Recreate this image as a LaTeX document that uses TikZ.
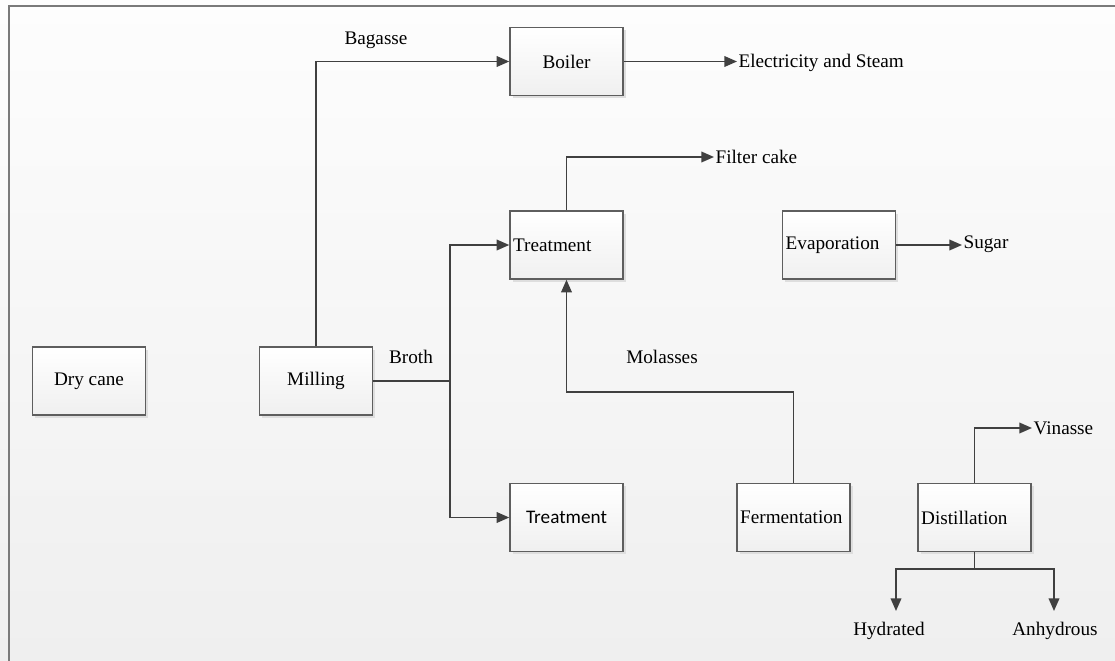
\documentclass[tikz,border=0pt]{standalone}
\usepackage{fontspec}
\setmainfont{Liberation Serif}
\newfontfamily\calibri{Carlito}
\usetikzlibrary{arrows.meta,shadows}
\definecolor{lncol}{HTML}{404040}
\definecolor{bxcol}{HTML}{5E5E5E}
\definecolor{bgtop}{HTML}{FDFDFD}
\definecolor{bgbot}{HTML}{EFEFEF}
\definecolor{frcol}{HTML}{7A7A7A}
\begin{document}
\begin{tikzpicture}[x=0.75pt,y=-0.75pt,
  font=\fontsize{14.4}{17}\selectfont,
  box/.style={draw=bxcol, line width=1.1pt, rectangle, inner sep=0pt,
    minimum width=84.75pt, minimum height=51pt,
    top color=white, bottom color=black!6,
    drop shadow={shadow xshift=2.2pt, shadow yshift=-2.2pt, fill=black!13, opacity=1}},
  lbox/.style={box, text width=80pt, align=left},
  lbl/.style={inner sep=1pt},
  arr/.style={draw=lncol, line width=1.2pt, -{Triangle[length=9.5pt,width=8pt]}},
  ln/.style={draw=lncol, line width=1.2pt}]
\useasboundingbox (0,0) rectangle (1115,661);
\fill[top color=bgtop, bottom color=bgbot] (0,0) rectangle (1115,661);
\draw[frcol, line width=1.5pt] (9,661) -- (9,6) -- (1115,6);

\node[box] (drycane) at (89,381) {Dry cane};
\node[box] (milling) at (316,381) {Milling};
\node[box] (boiler) at (566.5,61.5) {Boiler};
\node[lbox] (treat1) at (566.5,245) {Treatment};
\node[lbox] (evap) at (839,245) {Evaporation};
\node[box, font=\calibri\fontsize{14.4}{17}\selectfont] (treat2) at (566.5,517.5) {Treatment};
\node[lbox] (ferm) at (793.5,517.5) {Fermentation};
\node[lbox] (dist) at (974.5,517.5) {Distillation};

\node[lbl] (bagasse) at (376,40) {Bagasse};
\node[lbl] (broth) at (411,357) {Broth};
\node[lbl] (molasses) at (662,357) {Molasses};
\node[lbl, anchor=west] (elec) at (737,63) {Electricity and Steam};
\node[lbl, anchor=west] (filter) at (714,157) {Filter cake};
\node[lbl, anchor=west] (sugar) at (962,244) {Sugar};
\node[lbl, anchor=west] (vin) at (1032,428) {Vinasse};
\node[lbl] (hyd) at (889,631) {Hydrated};
\node[lbl] (anh) at (1055,631) {Anhydrous};

\coordinate (br) at (450,381);
\coordinate (m1) at (793.5,392);
\coordinate (m2) at (566.5,392);
\coordinate (db) at (974.5,569);
\coordinate (hydt) at (896,611);
\coordinate (anht) at (1054,611);

\draw[arr] (milling.north) |- (boiler.west);
\draw[arr] (boiler.east) -- (boiler.east -| elec.west);
\draw[arr] (treat1.north) |- (filter.west);
\draw[ln] (milling.east) -- (br);
\draw[arr] (br) |- (treat1.west);
\draw[arr] (br) |- (treat2.west);
\draw[arr] (ferm.north) -- (m1) -- (m2) -- (treat1.south);
\draw[arr] (evap.east) -- (evap.east -| sugar.west);
\draw[arr] (dist.north) |- (vin.west);
\draw[ln] (dist.south) -- (db);
\draw[arr] (db) -| (hydt);
\draw[arr] (db) -| (anht);
\end{tikzpicture}
\end{document}
